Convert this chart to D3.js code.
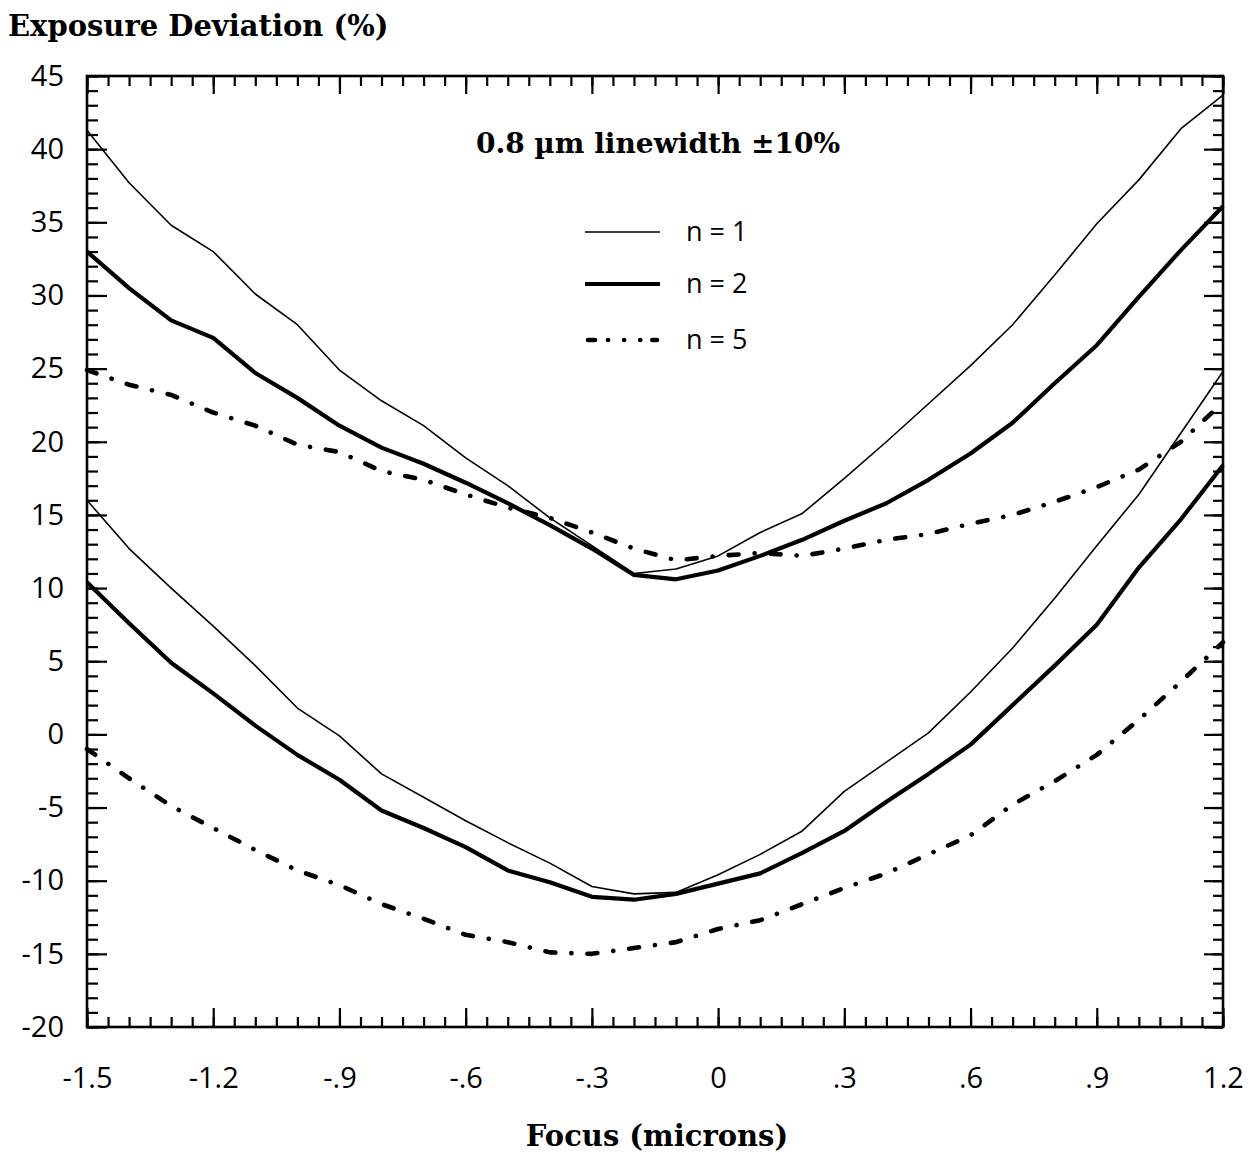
<!DOCTYPE html>
<html>
<head>
<meta charset="utf-8">
<script src="https://cdn.jsdelivr.net/npm/d3@7/dist/d3.min.js"></script>
<style>
  html, body { margin: 0; padding: 0; background: #fff; }
  svg { display: block; }
  .tick text { font-family: "Open Sans", "Noto Sans", sans-serif; font-size: 29px; font-weight: 500; fill: #000; }
  .serif { font-family: "DejaVu Serif", "Liberation Serif", serif; font-weight: bold; fill: #000; }
  .legend { font-family: "Open Sans", "Noto Sans", sans-serif; font-size: 27px; font-weight: 500; fill: #000; }
</style>
</head>
<body>
<script>
// Focus positions (microns)
const focus = [-1.5, -1.4, -1.3, -1.2, -1.1, -1.0, -0.9, -0.8, -0.7, -0.6, -0.5, -0.4, -0.3, -0.2,
               -0.1, 0.0, 0.1, 0.2, 0.3, 0.4, 0.5, 0.6, 0.7, 0.8, 0.9, 1.0, 1.1, 1.2];

// Exposure deviation (%) bounding the 0.8 um linewidth +/-10% window
const n1Upper = [41.3, 37.7, 34.8, 33.0, 30.1, 28.0, 24.9, 22.8, 21.1, 18.9, 17.0, 14.8, 12.9, 11.0,
                 11.3, 12.2, 13.8, 15.1, 17.5, 20.0, 22.6, 25.2, 28.0, 31.4, 34.9, 37.9, 41.4, 43.7];
const n2Upper = [33.0, 30.5, 28.3, 27.1, 24.7, 23.0, 21.1, 19.6, 18.5, 17.2, 15.8, 14.3, 12.7, 10.9,
                 10.6, 11.2, 12.2, 13.3, 14.6, 15.8, 17.4, 19.2, 21.3, 24.0, 26.6, 29.9, 33.1, 36.1];
const n5Upper = [24.9, 23.9, 23.2, 22.0, 21.1, 19.8, 19.3, 18.0, 17.4, 16.4, 15.5, 14.8, 13.8, 12.7,
                 11.9, 12.2, 12.4, 12.2, 12.7, 13.3, 13.7, 14.4, 15.0, 15.9, 16.9, 18.1, 20.0, 22.7];
const n1Lower = [16.0, 12.7, 10.0, 7.4, 4.7, 1.8, -0.1, -2.7, -4.3, -5.9, -7.4, -8.8, -10.4, -10.9,
                 -10.8, -9.6, -8.2, -6.6, -3.9, -1.9, 0.1, 2.9, 5.9, 9.3, 12.9, 16.4, 20.6, 24.8];
const n2Lower = [10.4, 7.6, 4.9, 2.8, 0.6, -1.4, -3.1, -5.2, -6.4, -7.7, -9.3, -10.1, -11.1, -11.3,
                 -10.9, -10.2, -9.5, -8.1, -6.6, -4.6, -2.7, -0.7, 2.0, 4.7, 7.5, 11.4, 14.7, 18.4];
const n5Lower = [-1.0, -3.0, -4.9, -6.4, -7.9, -9.3, -10.3, -11.6, -12.6, -13.7, -14.2, -14.9, -15.0, -14.6,
                 -14.2, -13.3, -12.7, -11.6, -10.5, -9.5, -8.2, -6.9, -4.8, -3.2, -1.4, 1.0, 3.6, 6.3];

// Tick labels
const xTickValues = [-1.5, -1.2, -0.9, -0.6, -0.3, 0, 0.3, 0.6, 0.9, 1.2];
const xTickLabels = ["-1.5", "-1.2", "-.9", "-.6", "-.3", "0", ".3", ".6", ".9", "1.2"];
const yTickValues = [45, 40, 35, 30, 25, 20, 15, 10, 5, 0, -5, -10, -15, -20];
const yTickLabels = ["45", "40", "35", "30", "25", "20", "15", "10", "5", "0", "-5", "-10", "-15", "-20"];

const legendLabels = ["n = 1", "n = 2", "n = 5"];

const W = 1249, H = 1154;
const svg = d3.select("body").append("svg").attr("width", W).attr("height", H);

const x = d3.scaleLinear().domain([-1.5, 1.2]).range([87, 1223]);
const y = d3.scaleLinear().domain([-20, 45]).range([1027, 76]);

const minorX = d3.range(-150, 121, 5).map(v => v / 100);
const minorY = d3.range(-20, 46, 1);

const styles = {
  thin:  { width: 1.6, dash: null },
  thick: { width: 4.2, dash: null },
  dash:  { width: 4.6, dash: "10,16,0.1,16" }
};

// inward ticks on all four sides
function tickLayer(axis, tx, ty) {
  const g = svg.append("g").attr("transform", `translate(${tx},${ty})`).call(axis);
  g.select(".domain").remove();
  g.selectAll(".tick line").attr("stroke", "#000").attr("stroke-width", 2.2);
  return g;
}
const fmtNone = () => "";
tickLayer(d3.axisBottom(x).tickValues(minorX).tickSize(-10).tickFormat(fmtNone), 0, 1027);
tickLayer(d3.axisTop(x).tickValues(minorX).tickSize(-10).tickFormat(fmtNone), 0, 76);
tickLayer(d3.axisLeft(y).tickValues(minorY).tickSize(-11).tickFormat(fmtNone), 87, 0);
tickLayer(d3.axisRight(y).tickValues(minorY).tickSize(-10).tickFormat(fmtNone), 1223, 0);

tickLayer(d3.axisBottom(x).tickValues(xTickValues).tickSize(-19).tickPadding(40)
  .tickFormat((d, i) => xTickLabels[i]), 0, 1027);
tickLayer(d3.axisTop(x).tickValues(xTickValues).tickSize(-18).tickFormat(fmtNone), 0, 76);
tickLayer(d3.axisLeft(y).tickValues(yTickValues).tickSize(-20).tickPadding(23)
  .tickFormat((d, i) => yTickLabels[i]), 87, 0);
tickLayer(d3.axisRight(y).tickValues(yTickValues).tickSize(-19).tickFormat(fmtNone), 1223, 0);

// frame
svg.append("rect")
  .attr("x", x(-1.5)).attr("y", y(45))
  .attr("width", x(1.2) - x(-1.5)).attr("height", y(-20) - y(45))
  .attr("fill", "none").attr("stroke", "#000").attr("stroke-width", 2.6);

// curves
const line = d3.line().x((d, i) => x(focus[i])).y(d => y(d));
const series = [
  { values: n1Upper, style: styles.thin },
  { values: n2Upper, style: styles.thick },
  { values: n5Upper, style: styles.dash },
  { values: n1Lower, style: styles.thin },
  { values: n2Lower, style: styles.thick },
  { values: n5Lower, style: styles.dash }
];
svg.append("g").selectAll("path").data(series).join("path")
  .attr("d", d => line(d.values))
  .attr("fill", "none")
  .attr("stroke", "#000")
  .attr("stroke-width", d => d.style.width)
  .attr("stroke-linejoin", "round")
  .attr("stroke-linecap", d => d.style.dash ? "round" : "butt")
  .attr("stroke-dasharray", d => d.style.dash);

// annotation
svg.append("text").attr("class", "serif")
  .attr("x", 658).attr("y", 153).attr("text-anchor", "middle")
  .attr("font-size", 28).text("0.8 \u00b5m linewidth \u00b110%");

// legend
const legendStyles = [styles.thin, styles.thick, { width: 4.6, dash: "7,13,0.1,16,0.1,16,0.1,12,8" }];
const legendY = [232, 284, 340];
legendLabels.forEach((lab, i) => {
  const st = legendStyles[i];
  svg.append("line")
    .attr("x1", i === 2 ? 588 : 585).attr("x2", i === 2 ? 657 : 660)
    .attr("y1", legendY[i]).attr("y2", legendY[i])
    .attr("stroke", "#000").attr("stroke-width", st.width)
    .attr("stroke-linecap", st.dash ? "round" : "butt")
    .attr("stroke-dasharray", st.dash);
  svg.append("text").attr("class", "legend")
    .attr("x", 686).attr("y", legendY[i]).attr("dy", "0.35em").text(lab);
});

// axis titles
svg.append("text").attr("class", "serif")
  .attr("x", 8).attr("y", 36).attr("font-size", 29).text("Exposure Deviation (%)");
svg.append("text").attr("class", "serif")
  .attr("x", 657).attr("y", 1146).attr("text-anchor", "middle")
  .attr("font-size", 29).text("Focus (microns)");
</script>
</body>
</html>
